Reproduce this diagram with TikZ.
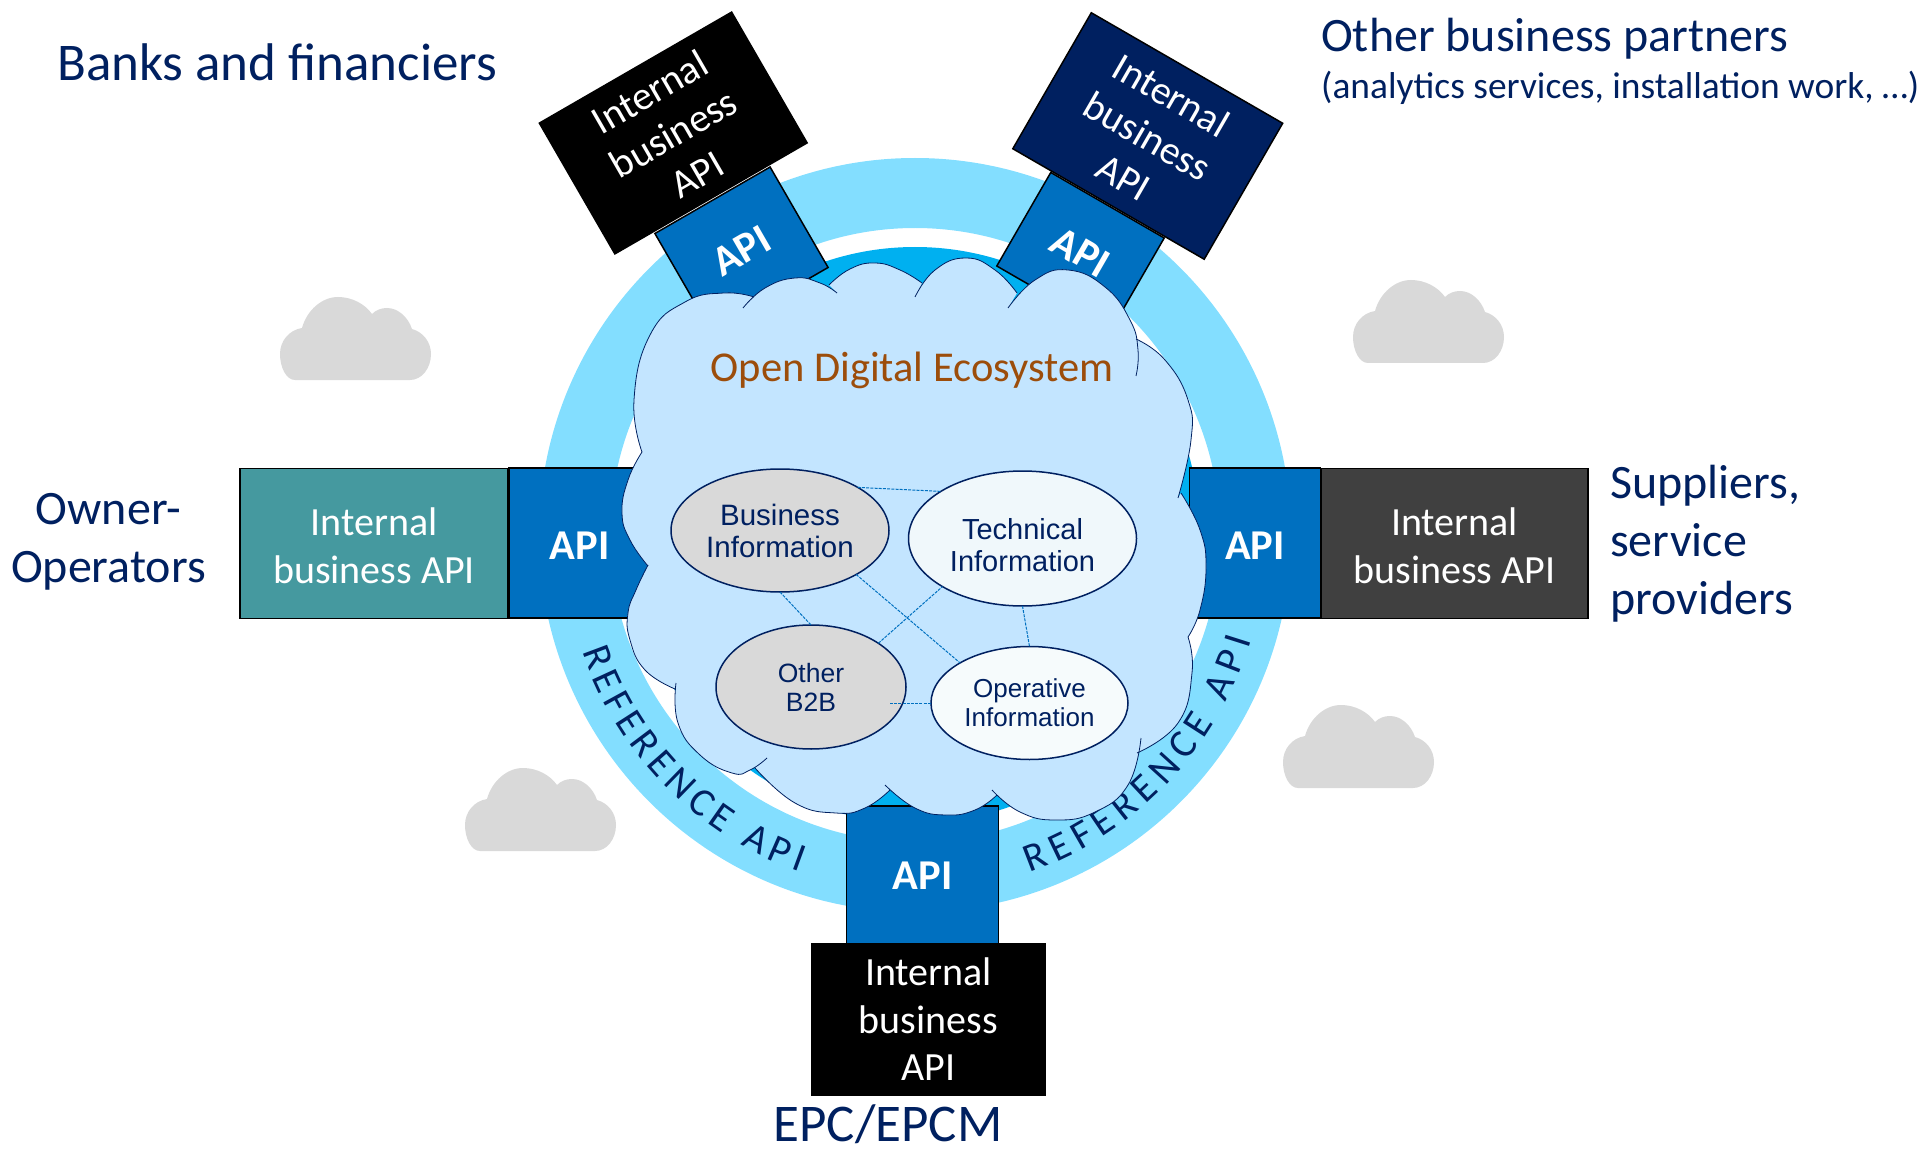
\documentclass[tikz,border=0pt]{standalone}
\usepackage{fontspec}
\setmainfont{Carlito}
\newfontfamily\arialfont{Liberation Sans}
\usetikzlibrary{shapes.geometric,decorations.text}
\definecolor{navy}{HTML}{002060}
\definecolor{apiblue}{HTML}{0070C0}
\definecolor{ringblue}{HTML}{83DEFF}
\definecolor{cyanblue}{HTML}{00B0F0}
\definecolor{cloudblue}{HTML}{C3E5FF}
\definecolor{tealbox}{HTML}{45999F}
\definecolor{darkbox}{HTML}{404040}
\definecolor{greyfill}{HTML}{D9D9D9}
\definecolor{palefill}{HTML}{F0F8FB}
\definecolor{palerfill}{HTML}{F6FBFC}
\definecolor{brown}{HTML}{9C4D0B}
\definecolor{linkblue}{HTML}{0070C0}
\tikzset{
  box/.style={draw=black,line width=1.5pt,inner sep=0pt,align=center,text=white,outer sep=0pt},
  apibox/.style={box,fill=apiblue,font=\fontsize{42.5}{46}\selectfont\bfseries},
  intbox/.style={box,font=\fontsize{40}{47.5}\selectfont},
  label/.style={text=navy,inner sep=0pt,font=\fontsize{48}{58}\selectfont,align=left},
  info/.style={ellipse,draw=navy,line width=1.5pt,inner sep=0pt,outer sep=0pt,align=center,text=navy},
  link/.style={draw=linkblue,line width=1pt,dashed,dash pattern=on 3pt off 1.2pt},
  lobe/.style={draw=navy,line width=0.8pt},
  greycloud/.pic={\fill[greyfill] (15,83) .. controls (6,83) and (0,70) .. (0,57)
     .. controls (0,44) and (9,33) .. (22,31) .. controls (27,13) and (42,0) .. (58,0)
     .. controls (72,0) and (85,7) .. (92,17) .. controls (96,13) and (101,11) .. (107,11)
     .. controls (118,11) and (128,20) .. (132,32) .. controls (143,35) and (151,45) .. (151,57)
     .. controls (151,71) and (142,83) .. (130,83) -- cycle;}
}
\def\lobeA{plot[smooth,tension=.8] coordinates {(642,452)(634,400)(650,335)(685,302)(724,293)(754,297)}}
\def\lobeB{plot[smooth,tension=.8] coordinates {(743,308)(765,288)(795,278)(820,283)(837,293)}}
\def\lobeC{plot[smooth,tension=.8] coordinates {(829,285)(850,269)(875,263)(900,270)(922,283)}}
\def\lobeD{plot[smooth,tension=.8] coordinates {(915,297)(935,270)(966,258)(995,270)(1017,293)}}
\def\lobeE{plot[smooth,tension=.8] coordinates {(1008,308)(1035,280)(1068,270)(1105,287)(1130,320)(1138,350)(1136,376)}}
\def\lobeF{plot[smooth,tension=.8] coordinates {(1136,339)(1165,360)(1188,400)(1191,440)(1178,498)}}
\def\lobeG{plot[smooth,tension=.8] coordinates {(1181,493)(1200,530)(1206,567)(1200,610)(1188,637)}}
\def\lobeH{plot[smooth,tension=.8] coordinates {(1188,637)(1192,673)(1178,723)(1137,753)}}
\def\lobeI{plot[smooth,tension=.8] coordinates {(1141,738)(1128,785)(1095,812)(1056,820)(1020,812)(992,790)}}
\def\lobeJ{plot[smooth,tension=.8] coordinates {(997,795)(975,810)(946,815)(915,808)(885,785)}}
\def\lobeK{plot[smooth,tension=.8] coordinates {(890,790)(865,808)(836,813)(795,803)(755,768)}}
\def\lobeL{plot[smooth,tension=.8] coordinates {(767,758)(750,770)(732,773)(700,755)(678,723)(676,683)}}
\def\lobeM{plot[smooth,tension=.8] coordinates {(675,689)(645,670)(630,640)(628,613)(636,590)(648,565)}}
\def\lobeN{plot[smooth,tension=.8] coordinates {(648,566)(630,540)(622,513)(628,480)(642,452)}}
\begin{document}
\begin{tikzpicture}[x=1pt,y=-1pt]
\useasboundingbox (0,0) rectangle (1923,1150);
% rings
\fill[ringblue,even odd rule] (915,535) ellipse [x radius=376pt,y radius=377pt]
   (915,535) ellipse [x radius=305pt,y radius=307pt];
\fill[cyanblue] (915,535) ellipse [x radius=285pt,y radius=288pt];
% ring text
\path[decorate,decoration={text along path,text align={fit to path},
   text={|\fontsize{40}{40}\selectfont\color{navy}|REFERENCE API}}]
   (582.2,651.2) arc [start angle=199,end angle=251,x radius=351pt,y radius=356pt];
\path[decorate,decoration={text along path,text align={fit to path},
   text={|\fontsize{40}{40}\selectfont\color{navy}|REFERENCE API}}]
   (1029.6,872.6) arc [start angle=289,end angle=343,x radius=351pt,y radius=356pt];
% grey clouds
\pic at (280,297) {greycloud};
\pic at (1353,280) {greycloud};
\pic at (1283,705) {greycloud};
\pic at (465,768) {greycloud};
% API boxes
\node[apibox,minimum width=133pt,minimum height=116pt,rotate=30] (apiTL) at (741.5,250.5) {API};
\node[apibox,minimum width=131pt,minimum height=108pt,rotate=-30] (apiTR) at (1080.5,252) {API};
\node[apibox,minimum width=141pt,minimum height=150pt] (apiL) at (579.5,543) {\rule{0pt}{33pt}API};
\node[apibox,minimum width=131pt,minimum height=150pt] (apiR) at (1255,543) {\rule{0pt}{33pt}API};
\node[apibox,minimum width=152pt,minimum height=138pt] (apiB) at (922.5,875) {\rule{0pt}{29pt}API};
% internal boxes
\node[intbox,fill=black,minimum width=222pt,minimum height=151pt,rotate=30] (intTL) at (673.25,133) {Internal\\business\\API};
\node[intbox,fill=navy,minimum width=221pt,minimum height=157pt,rotate=-30] (intTR) at (1147.75,136) {Internal\\business\\API};
\node[intbox,fill=tealbox,minimum width=268pt,minimum height=150pt] (intL) at (374,543.5) {\rule{0pt}{32pt}Internal\\business API};
\node[intbox,fill=darkbox,minimum width=267pt,minimum height=150pt] (intR) at (1454.5,543.5) {\rule{0pt}{32pt}Internal\\business API};
\node[intbox,fill=black,minimum width=233pt,minimum height=151pt] (intB) at (928.5,1019.5) {Internal\\business\\API};
% central cloud
\fill[cloudblue] plot[smooth,tension=.8] coordinates {(642,452)(634,400)(650,335)(685,302)(724,293)(754,297)}
 -- plot[smooth,tension=.8] coordinates {(743,308)(765,288)(795,278)(820,283)(837,293)}
 -- plot[smooth,tension=.8] coordinates {(829,285)(850,269)(875,263)(900,270)(922,283)}
 -- plot[smooth,tension=.8] coordinates {(915,297)(935,270)(966,258)(995,270)(1017,293)}
 -- plot[smooth,tension=.8] coordinates {(1008,308)(1035,280)(1068,270)(1105,287)(1130,320)(1138,350)(1136,376)}
 -- plot[smooth,tension=.8] coordinates {(1136,339)(1165,360)(1188,400)(1191,440)(1178,498)}
 -- plot[smooth,tension=.8] coordinates {(1181,493)(1200,530)(1206,567)(1200,610)(1188,637)}
 -- plot[smooth,tension=.8] coordinates {(1188,637)(1192,673)(1178,723)(1137,753)}
 -- plot[smooth,tension=.8] coordinates {(1141,738)(1128,785)(1095,812)(1056,820)(1020,812)(992,790)}
 -- plot[smooth,tension=.8] coordinates {(997,795)(975,810)(946,815)(915,808)(885,785)}
 -- plot[smooth,tension=.8] coordinates {(890,790)(865,808)(836,813)(795,803)(755,768)}
 -- plot[smooth,tension=.8] coordinates {(767,758)(750,770)(732,773)(700,755)(678,723)(676,683)}
 -- plot[smooth,tension=.8] coordinates {(675,689)(645,670)(630,640)(628,613)(636,590)(648,565)}
 -- plot[smooth,tension=.8] coordinates {(648,566)(630,540)(622,513)(628,480)(642,452)} -- cycle;
\draw[lobe] \lobeA; \draw[lobe] \lobeB; \draw[lobe] \lobeC; \draw[lobe] \lobeD;
\draw[lobe] \lobeE; \draw[lobe] \lobeF; \draw[lobe] \lobeG; \draw[lobe] \lobeH;
\draw[lobe] \lobeI; \draw[lobe] \lobeJ; \draw[lobe] \lobeK; \draw[lobe] \lobeL;
\draw[lobe] \lobeM; \draw[lobe] \lobeN;
\node[text=brown,inner sep=0pt,font=\fontsize{42.5}{48}\selectfont] (ode) at (912,370) {Open Digital Ecosystem};
% info ellipses
\node[info,fill=greyfill,minimum width=218pt,minimum height=123pt,font=\arialfont\fontsize{29.5}{32}\selectfont] (bus) at (780,530.5) {Business\\Information};
\node[info,fill=palefill,minimum width=228pt,minimum height=135pt,font=\arialfont\fontsize{29}{32}\selectfont] (tec) at (1022.5,538.5) {\rule{0pt}{34pt}Technical\\Information};
\node[info,fill=greyfill,minimum width=190pt,minimum height=124pt,font=\arialfont\fontsize{26.5}{29}\selectfont] (oth) at (811,687) {Other\\B2B};
\node[info,fill=palerfill,minimum width=197pt,minimum height=113pt,font=\arialfont\fontsize{26}{29}\selectfont] (ope) at (1029.5,703) {Operative\\Information};
\coordinate (othin) at (890,703);
\draw[link] (bus.29) -- (tec.150);
\draw[link] (bus.270) -- (oth.90);
\draw[link] (bus.-30) -- (ope.150);
\draw[link] (oth.33) -- (tec.211);
\draw[link] (othin) -- (ope.180);
\draw[link] (tec.270) -- (ope.90);
% labels
\node[label,anchor=west,font=\fontsize{53}{58}\selectfont] (banks) at (57,62) {Banks and financiers};
\node[label,anchor=west] (other) at (1321,38.5) {Other business partners};
\node[label,anchor=west,font=\fontsize{37.4}{42}\selectfont] (otherb) at (1321,88) {(analytics services, installation work, …)};
\node[label,align=center] (owner) at (108.5,541.5) {Owner-\\Operators};
\node[label,anchor=west] (supp) at (1610,544) {Suppliers,\\service\\providers};
\node[label,font=\fontsize{53}{58}\selectfont] (epc) at (888,1124) {EPC/EPCM};
\end{tikzpicture}
\end{document}
